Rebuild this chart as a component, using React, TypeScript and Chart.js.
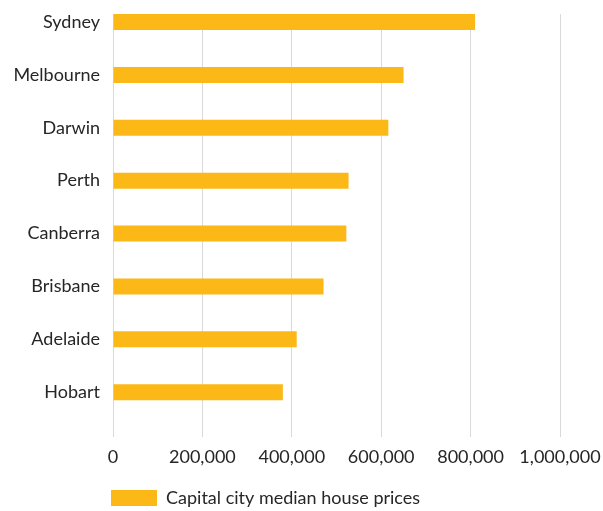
import React, { useEffect, useRef } from "react";
import { Chart, registerables } from "chart.js";

Chart.register(...registerables);

const cities = ["Sydney", "Melbourne", "Darwin", "Perth", "Canberra", "Brisbane", "Adelaide", "Hobart"];
const medianPrices = [810000, 650000, 616000, 527000, 522000, 471000, 411000, 380000];
const seriesLabel = "Capital city median house prices";
const xTicks = [0, 200000, 400000, 600000, 800000, 1000000];

const FONT = "Lato, 'Open Sans', sans-serif";
const TEXT = "#262626";
const GRID = "#d9d9d9";
const BAR = "#FCB817";

// The category labels live in the left padding; widen the y scale's
// clip region back to the canvas edge so they are not cut off.
const widenLabelArea = {
  id: "widenLabelArea",
  afterLayout(chart: any) {
    const y = chart.scales.y;
    if (y) y.left = 0;
  },
};

export default function App() {
  const canvasRef = useRef<HTMLCanvasElement | null>(null);

  useEffect(() => {
    const canvas = canvasRef.current;
    if (!canvas) return;
    const empty = cities.map(() => null);
    const barOpts = { categoryPercentage: 1.044, barPercentage: 0.87 };
    const chart = new Chart(canvas, {
      type: "bar",
      data: {
        labels: cities,
        datasets: [
          { label: seriesLabel, data: medianPrices, backgroundColor: BAR, ...barOpts },
          // empty slots so each bar sits at the top of its band
          { label: "", data: empty, backgroundColor: "transparent", ...barOpts },
          { label: "", data: empty, backgroundColor: "transparent", ...barOpts },
        ],
      },
      options: {
        indexAxis: "y",
        responsive: false,
        animation: false,
        layout: { padding: { top: 14, left: 111, right: 43, bottom: 0 } },
        scales: {
          x: {
            min: 0,
            max: 1000000,
            afterBuildTicks: (scale: any) => {
              scale.ticks = xTicks.map((v) => ({ value: v }));
            },
            afterFit: (scale: any) => {
              scale.height = 52;
              scale.paddingLeft = 0;
              scale.paddingRight = 0;
            },
            grid: { color: GRID, lineWidth: 1, drawTicks: false },
            border: { display: false },
            ticks: {
              padding: 9,
              color: TEXT,
              font: { family: FONT, size: 18 },
              maxRotation: 0,
              callback: (v: any) => Number(v).toLocaleString("en-US"),
            },
          },
          y: {
            afterFit: (scale: any) => {
              scale.width = 2;
              scale.paddingTop = 0;
              scale.paddingBottom = 0;
            },
            grid: { display: false, drawTicks: false },
            border: { display: false },
            ticks: {
              padding: 13,
              labelOffset: -18.4,
              color: TEXT,
              font: { family: FONT, size: 18 },
            },
          },
        },
        plugins: {
          legend: {
            position: "bottom",
            align: "start",
            maxHeight: 22,
            labels: {
              filter: (item: any) => item.datasetIndex === 0,
              boxWidth: 46,
              boxHeight: 16,
              padding: 0,
              color: TEXT,
              font: { family: FONT, size: 18 },
            },
          },
          tooltip: { enabled: false },
        },
      },
      plugins: [widenLabelArea],
    });
    return () => chart.destroy();
  }, []);

  return (
    <div style={{ position: "fixed", left: 0, top: 0, width: 603, height: 511, background: "#fff" }}>
      <canvas ref={canvasRef} width={603} height={511} style={{ display: "block" }} />
    </div>
  );
}
